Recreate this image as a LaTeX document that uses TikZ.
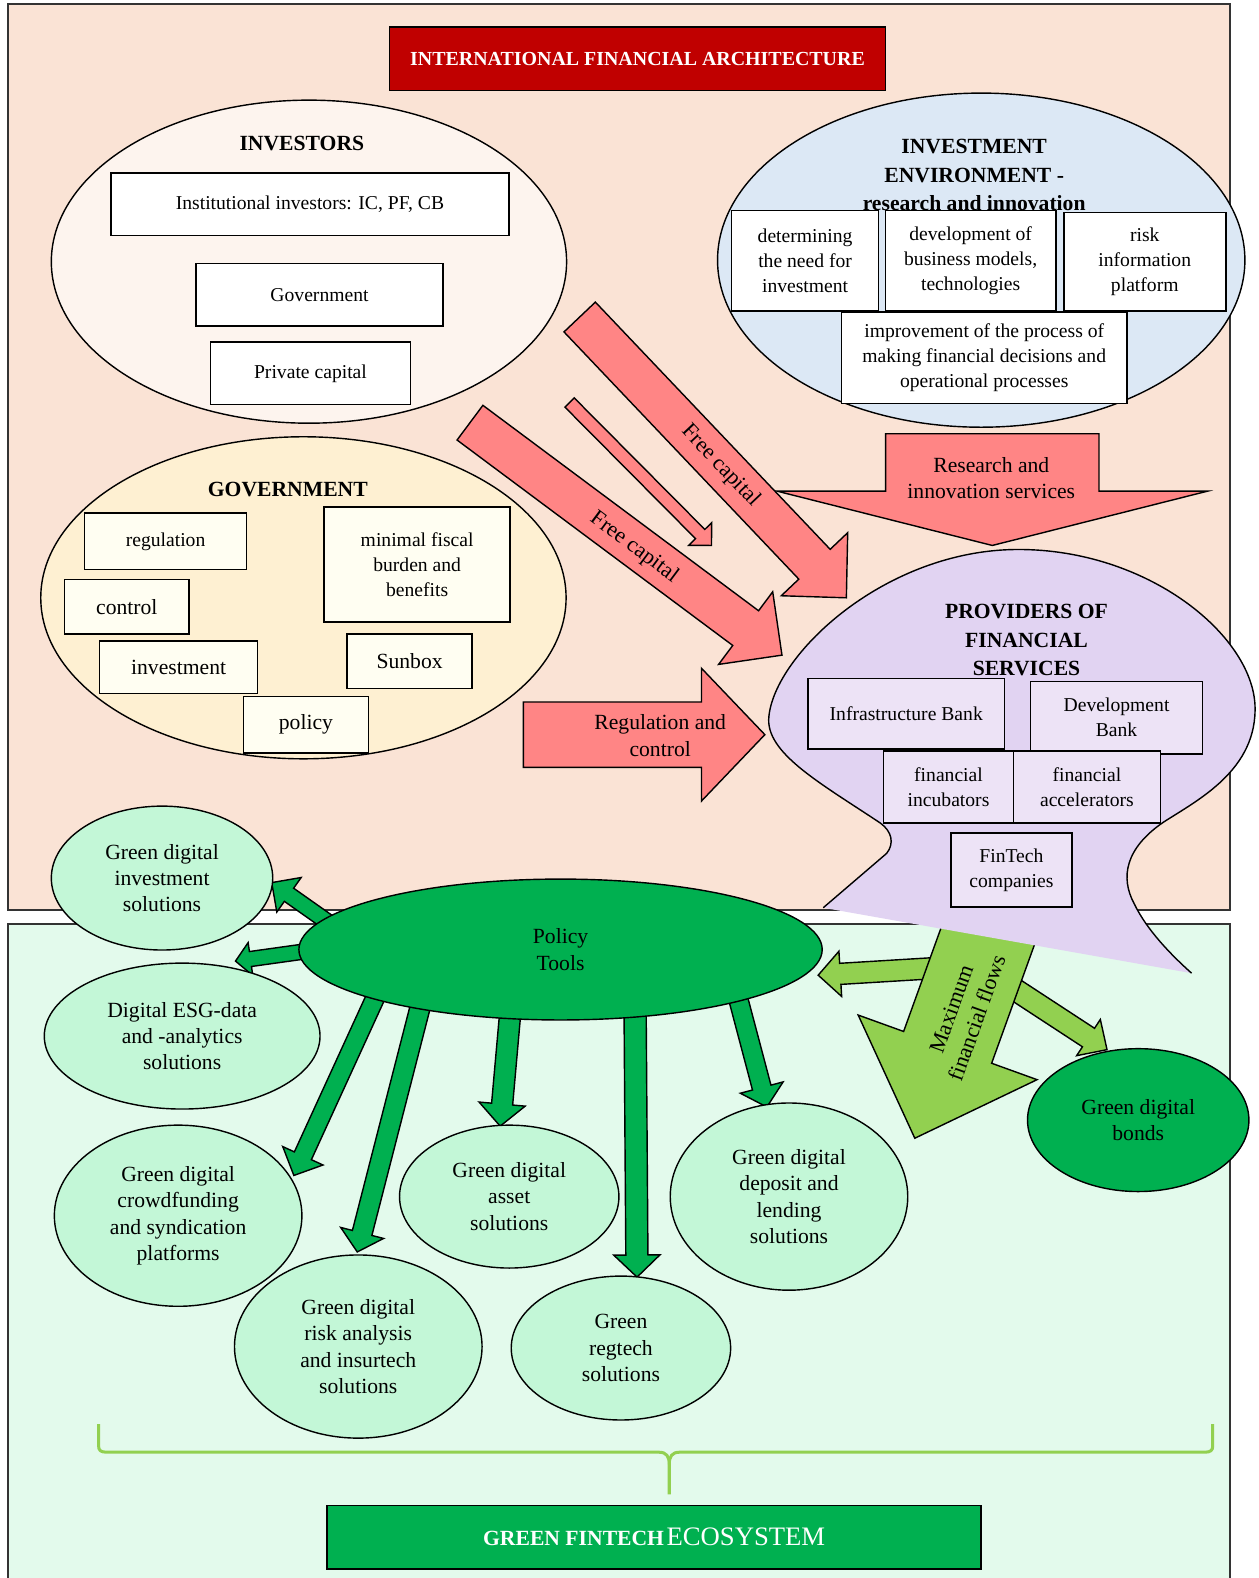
\documentclass[tikz,border=0pt]{standalone}
\usepackage{fontspec}
\setmainfont{Liberation Serif}
\usetikzlibrary{calc,shapes.geometric}
\newcommand\fsz[2]{\fontsize{#1}{#2}\selectfont}
% block arrow: [style]{tail}{tip}{shaft half width}{head half width}{head length}
\newcommand\blockarrow[6][]{%
  \coordinate (ba-n) at ($(#3)!#6!(#2)$);
  \draw[#1] ($(#2)!#4!90:(#3)$) -- ($(ba-n)!#4!90:(#3)$) -- ($(ba-n)!#5!90:(#3)$) -- (#3)
    -- ($(ba-n)!#5!-90:(#3)$) -- ($(ba-n)!#4!-90:(#3)$) -- ($(#2)!#4!-90:(#3)$) -- cycle;}
\definecolor{peach}{HTML}{FAE3D5}
\definecolor{mint}{HTML}{E3FAEC}
\definecolor{investc}{HTML}{FDF4EE}
\definecolor{envc}{HTML}{DCE8F5}
\definecolor{govc}{HTML}{FEF0D2}
\definecolor{govbox}{HTML}{FFFEF2}
\definecolor{redarrc}{HTML}{FF8585}
\definecolor{titlered}{HTML}{C00000}
\definecolor{lav}{HTML}{E1D3F2}
\definecolor{provbox}{HTML}{EDE3F6}
\definecolor{gellc}{HTML}{C3F7D7}
\definecolor{dgreen}{HTML}{00B050}
\definecolor{lgreen}{HTML}{92D050}
\tikzset{
  panel/.style={draw=black!80, line width=1.6pt},
  bx/.style={draw=black, line width=1.6pt, fill=white, inner sep=0pt, align=center, font=\fsz{19.5}{25}},
  govbx/.style={bx, fill=govbox},
  govbig/.style={govbx, font=\fsz{21.5}{26}},
  provbx/.style={bx, fill=provbox},
  head/.style={align=center, inner sep=0pt, font=\bfseries\fsz{21.5}{28}},
  ell/.style={ellipse, draw=black, line width=1.4pt, inner sep=0pt, align=center},
  gell/.style={ell, fill=gellc, font=\fsz{21.5}{26}},
  redarr/.style={draw=black, line width=1.4pt, fill=redarrc},
  grarr/.style={draw=black, line width=1.4pt, fill=dgreen},
  lgarr/.style={draw=black, line width=1.4pt, fill=lgreen},
  albl/.style={align=center, inner sep=0pt, font=\fsz{21.5}{26}},
  bracel/.style={draw=lgreen, line width=3pt}
}
\begin{document}
\begin{tikzpicture}[x=1pt,y=-1pt]
\useasboundingbox (0,0) rectangle (1251,1568);
% panels
\draw[panel, fill=peach] (8,4) rectangle (1222,904);
\draw[panel, fill=mint] (8,918) rectangle (1222,1580);
% title
\node[draw=black, line width=1.4pt, fill=titlered, text=white, minimum width=493pt, minimum height=63pt,
  inner sep=0pt, font=\bfseries\fsz{19.8}{23}] (title) at (633.5,58.5) {INTERNATIONAL FINANCIAL ARCHITECTURE};
% investors
\node[ell, fill=investc, minimum width=512pt, minimum height=321pt] (investors) at (307,260) {};
\node[head] (invh) at (300,143) {INVESTORS};
\node[bx, minimum width=396pt, minimum height=62pt] (inst) at (308,203) {Institutional investors: IC, PF, CB};
\node[bx, minimum width=245pt, minimum height=62pt] (igov) at (317.5,293) {Government};
\node[bx, minimum width=199pt, minimum height=62pt] (priv) at (308.5,371) {Private capital};
% investment environment
\node[ell, fill=envc, minimum width=524pt, minimum height=332pt] (env) at (975,258.5) {};
\node[head] (envh) at (968,174) {INVESTMENT\\ENVIRONMENT -\\research and innovation};
\node[bx, minimum width=146pt, minimum height=100pt] (det) at (800,259) {determining\\the need for\\investment};
\node[bx, minimum width=169pt, minimum height=100pt] (dev) at (964.5,259) {development of\\business models,\\technologies};
\node[bx, minimum width=161pt, minimum height=98pt] (risk) at (1137.5,260) {risk\\information\\platform};
\node[bx, minimum width=284pt, minimum height=91pt] (impr) at (978,355.5) {improvement of the process of\\making financial decisions and\\operational processes};
% government
\node[ell, fill=govc, minimum width=522pt, minimum height=320pt] (gov) at (301.5,594) {};
\node[head] (govh) at (286,486) {GOVERNMENT};
\node[govbx, minimum width=161pt, minimum height=56pt] (regu) at (164.5,538) {regulation};
\node[govbig, minimum width=124pt, minimum height=54pt] (ctrl) at (126,603) {control};
\node[govbig, minimum width=157pt, minimum height=52pt] (inve) at (177.5,663) {investment};
\node[govbx, minimum width=185pt, minimum height=114pt] (fisc) at (414.5,561) {minimal fiscal\\burden and\\benefits};
\node[govbig, minimum width=124pt, minimum height=54pt] (sunb) at (407,657) {Sunbox};
\node[govbig, minimum width=124pt, minimum height=56pt] (poli) at (304,720) {policy};
% red arrows
\coordinate (rst) at (986,431); \coordinate (rsh) at (986,542);
\blockarrow[redarr]{rst}{rsh}{106pt}{214pt}{54pt}
\node[albl] (rsl) at (985,475) {Research and\\innovation services};
\coordinate (fc1t) at (576,315); \coordinate (fc1h) at (841,594);
\blockarrow[redarr]{fc1t}{fc1h}{21.5pt}{45.5pt}{46pt}
\node[albl, rotate=-46.6, font=\fsz{22}{26}] (fc1l) at (716,463) {Free capital};
\coordinate (fc2t) at (566,400); \coordinate (fc2h) at (707,542);
\blockarrow[redarr]{fc2t}{fc2h}{6.5pt}{16pt}{16pt}
\coordinate (fc3t) at (467,420); \coordinate (fc3h) at (777,651);
\blockarrow[redarr]{fc3t}{fc3h}{21.5pt}{45pt}{45pt}
\node[albl, rotate=-36.7, font=\fsz{22}{26}] (fc3l) at (630,544) {Free capital};
\coordinate (rct) at (520,730); \coordinate (rch) at (760,730);
\blockarrow[redarr]{rct}{rch}{32.5pt}{66pt}{63pt}
\node[albl] (rcl) at (656,731) {Regulation and\\control};
% maximum financial flows and side arrows
\coordinate (mlt) at (945,961); \coordinate (mlh) at (813,969);
\blockarrow[lgarr]{mlt}{mlh}{10.5pt}{22.5pt}{22pt}
\coordinate (mrt) at (996,975); \coordinate (mrh) at (1100,1043);
\blockarrow[lgarr]{mrt}{mrh}{11pt}{21.5pt}{22pt}
\coordinate (mft) at (991,904); \coordinate (mfh) at (909,1131);
\blockarrow[lgarr]{mft}{mfh}{46.5pt}{94.5pt}{96pt}
% providers of financial services
\fill[lav] (818,902) -- (881,848) .. controls (889,838) and (886,826) .. (875,818)
  .. controls (815,778) and (760,748) .. (764,712) .. controls (770,650) and (880,546) .. (1012,546)
  .. controls (1140,546) and (1243,630) .. (1247,700) .. controls (1250,765) and (1190,795) .. (1156,817)
  .. controls (1118,843) and (1113,872) .. (1127,898) .. controls (1140,925) and (1165,950) .. (1184,967) -- cycle;
\draw[line width=1.4pt] (818,902) -- (881,848) .. controls (889,838) and (886,826) .. (875,818)
  .. controls (815,778) and (760,748) .. (764,712) .. controls (770,650) and (880,546) .. (1012,546)
  .. controls (1140,546) and (1243,630) .. (1247,700) .. controls (1250,765) and (1190,795) .. (1156,817)
  .. controls (1118,843) and (1113,872) .. (1127,898) .. controls (1140,925) and (1165,950) .. (1184,967);
\node[head] (provh) at (1020,636) {PROVIDERS OF\\FINANCIAL\\SERVICES};
\node[provbx, minimum width=195pt, minimum height=70pt] (infra) at (900.5,709) {Infrastructure Bank};
\node[provbx, minimum width=171pt, minimum height=72pt] (devb) at (1109.5,713) {Development\\Bank};
\node[provbx, minimum width=129pt, minimum height=72pt] (incub) at (942.5,782) {financial\\incubators};
\node[provbx, minimum width=146pt, minimum height=72pt] (accel) at (1080,782) {financial\\accelerators};
\node[provbx, minimum width=120pt, minimum height=73pt] (fint) at (1005,864.5) {FinTech\\companies};
\node[albl, rotate=70.3, font=\fsz{22}{27}] (mfl) at (958,1007) {Maximum\\financial flows};
% green arrows from policy tools
\coordinate (gat) at (331,920); \coordinate (gah) at (270,877);
\blockarrow[grarr]{gat}{gah}{8pt}{21pt}{21pt}
\coordinate (gbt) at (320,943); \coordinate (gbh) at (234,955);
\blockarrow[grarr]{gbt}{gbh}{7.5pt}{16.5pt}{15pt}
\coordinate (gct) at (379,978); \coordinate (gch) at (292,1168);
\blockarrow[grarr]{gct}{gch}{9.3pt}{22pt}{21.5pt}
\coordinate (gdt) at (421,987); \coordinate (gdh) at (355,1244);
\blockarrow[grarr]{gdt}{gdh}{10pt}{22pt}{19.5pt}
\coordinate (get) at (508,995); \coordinate (geh) at (497,1119);
\blockarrow[grarr]{get}{geh}{10.5pt}{23pt}{22pt}
\coordinate (gft) at (631,995); \coordinate (gfh) at (633,1269);
\blockarrow[grarr]{gft}{gfh}{11pt}{23pt}{22pt}
\coordinate (ggt) at (730,979); \coordinate (ggh) at (762,1100);
\blockarrow[grarr]{ggt}{ggh}{9.5pt}{22pt}{20pt}
\node[ell, fill=dgreen, minimum width=520pt, minimum height=140pt, font=\fsz{21.5}{26}] (pol) at (557,943.5) {Policy\\Tools};
% solution ellipses
\node[gell, minimum width=220pt, minimum height=143pt] (gi) at (161,872.5) {Green digital\\investment\\solutions};
\node[gell, minimum width=274pt, minimum height=145pt] (esg) at (181,1029.5) {Digital ESG-data\\and -analytics\\solutions};
\node[gell, minimum width=246pt, minimum height=180pt] (crowd) at (177,1208) {Green digital\\crowdfunding\\and syndication\\platforms};
\node[gell, minimum width=246pt, minimum height=182pt] (riskan) at (356,1338) {Green digital\\risk analysis\\and insurtech\\solutions};
\node[gell, minimum width=218pt, minimum height=142pt] (asset) at (506,1189) {Green digital\\asset\\solutions};
\node[gell, minimum width=218pt, minimum height=143pt] (regt) at (617,1339.5) {Green\\regtech\\solutions};
\node[gell, minimum width=236pt, minimum height=186pt] (depo) at (784,1189) {Green digital\\deposit and\\lending\\solutions};
\node[ell, fill=dgreen, minimum width=220pt, minimum height=142pt, font=\fsz{21.5}{26}] (bonds) at (1131,1113) {Green digital\\bonds};
% brace
\draw[bracel] (98,1415) -- (98,1437) .. controls (98,1441) and (100,1443) .. (106,1443) -- (655,1443)
  .. controls (662,1443) and (665,1447) .. (665,1455) -- (665,1485);
\draw[bracel] (665,1455) .. controls (665,1447) and (668,1443) .. (675,1443) -- (1197,1443)
  .. controls (1203,1443) and (1205,1441) .. (1205,1437) -- (1205,1415);
\node[draw=black, line width=1.6pt, fill=dgreen, text=white, minimum width=650pt, minimum height=63pt, inner sep=0pt] (eco) at (650,1527.5)
  {{\bfseries\fsz{21.5}{24}GREEN FINTECH} {\fsz{26.5}{30}ECOSYSTEM}};
\end{tikzpicture}
\end{document}
